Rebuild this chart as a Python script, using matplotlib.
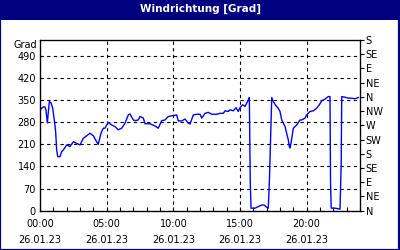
import numpy as np
import matplotlib
matplotlib.use("Agg")
import matplotlib.pyplot as plt
from matplotlib.patches import Rectangle
from matplotlib.ticker import MultipleLocator

# wind direction, hours since 00:00 on 26.01.23
hours = [0.00, 0.23, 0.38, 0.45, 0.55, 0.70, 0.83, 0.95, 1.10, 1.18, 1.25, 1.33,
         1.50, 1.63, 1.75, 2.00, 2.25, 2.50, 2.75, 3.00, 3.25, 3.50, 3.75, 4.00,
         4.25, 4.37, 4.58, 4.75, 4.88, 5.00, 5.12, 5.38, 5.63, 5.87, 6.13, 6.38,
         6.62, 6.75, 7.00, 7.13, 7.37, 7.50, 7.75, 7.88, 8.25, 8.63, 8.87, 9.13,
         9.38, 9.62, 10.00, 10.25, 10.37, 10.63, 10.88, 11.12, 11.25, 11.50, 11.75,
         12.00, 12.13, 12.38, 12.62, 12.88, 13.25, 13.50, 13.75, 13.88, 14.12,
         14.25, 14.50, 14.70, 14.87, 15.00, 15.20, 15.38, 15.50, 15.62, 15.70,
         15.77, 15.83, 15.88, 16.13, 16.37, 16.63, 16.80, 17.00, 17.12, 17.21,
         17.38, 17.50, 17.70, 17.87, 18.00, 18.13, 18.25, 18.38, 18.50, 18.62,
         18.70, 18.75, 18.83, 18.88, 19.00, 19.13, 19.25, 19.50, 19.63, 19.88,
         20.00, 20.25, 20.50, 20.75, 20.95, 21.13, 21.38, 21.62, 21.75, 21.79,
         21.84, 22.13, 22.50, 22.59, 22.63, 22.88, 23.12, 23.38, 23.63, 23.87]
grad = [319, 328, 328, 318, 278, 345, 341, 325, 278, 246, 192, 171,
        171, 187, 192, 208, 203, 218, 213, 208, 229, 237, 245, 237,
        218, 210, 246, 261, 261, 271, 279, 271, 266, 256, 261, 277,
        303, 306, 287, 285, 287, 298, 293, 275, 275, 268, 261, 285,
        287, 298, 301, 303, 284, 284, 290, 277, 274, 303, 305,
        305, 293, 308, 311, 305, 305, 308, 308, 316, 314,
        319, 316, 326, 314, 326, 335, 330, 340, 350, 358,
        89, 8, 8, 8, 13, 18, 18, 11, 8, 100,
        358, 345, 332, 324, 314, 287, 277, 266, 245, 224,
        203, 198, 215, 229, 261, 266, 271, 287, 287, 293,
        303, 314, 316, 324, 335, 348, 353, 361, 361, 90,
        8, 8, 5, 150, 361, 359, 356, 356, 354, 358]

y_ticks = [0, 70, 140, 210, 280, 350, 420, 490]
dir_ticks = list(range(0, 541, 45))
dir_labels = ["N", "NE", "E", "SE", "S", "SW", "W", "NW", "N", "NE", "E", "SE", "S"]
x_ticks = [0, 5, 10, 15, 20]
x_labels = ["00:00\n26.01.23", "05:00\n26.01.23", "10:00\n26.01.23",
            "15:00\n26.01.23", "20:00\n26.01.23"]

navy = "#000080"
plt.rcParams["font.family"] = "DejaVu Sans"
plt.rcParams["font.size"] = 7

fig = plt.figure(figsize=(4, 2.5), dpi=100)
fig.patch.set_facecolor("white")

# title bar + frame
fig.add_artist(Rectangle((0, 230 / 250), 1, 20 / 250, transform=fig.transFigure,
                         facecolor=navy, edgecolor="none"))
fig.add_artist(Rectangle((0.001, 0.002), 0.996, 0.99, transform=fig.transFigure,
                         facecolor="none", edgecolor=navy, linewidth=1.6))
fig.text(0.5, 241 / 250, "Windrichtung [Grad]", color="white", fontweight="bold",
         fontsize=7.5, ha="center", va="center")

ax = fig.add_axes([40 / 400, 39.3 / 250, 320 / 400, 170.7 / 250])
ax.plot(hours, grad, color="#0000ff", linewidth=1.0)
ax.set_xlim(0, 24)
ax.set_ylim(0, 540)

ax.set_yticks(y_ticks)
ax.set_xticks(x_ticks)
ax.set_xticklabels(x_labels, linespacing=1.7)
ax.xaxis.set_minor_locator(MultipleLocator(1))
ax.tick_params(axis="y", length=0, pad=3)
ax.tick_params(axis="x", which="both", direction="in", length=3, width=0.8, pad=6)
ax.grid(True, color="black", linestyle=(0, (3, 3)), linewidth=0.8)
for sp in ax.spines.values():
    sp.set_linewidth(0.9)
ax.text(-0.01, 0.97, "Grad", transform=ax.transAxes, ha="right", va="center")

ax2 = ax.twinx()
ax2.set_ylim(0, 540)
ax2.set_yticks(dir_ticks)
ax2.set_yticklabels(dir_labels)
ax2.tick_params(axis="y", direction="out", length=3, width=0.8, pad=1)

fig.savefig("out.png", dpi=100)
